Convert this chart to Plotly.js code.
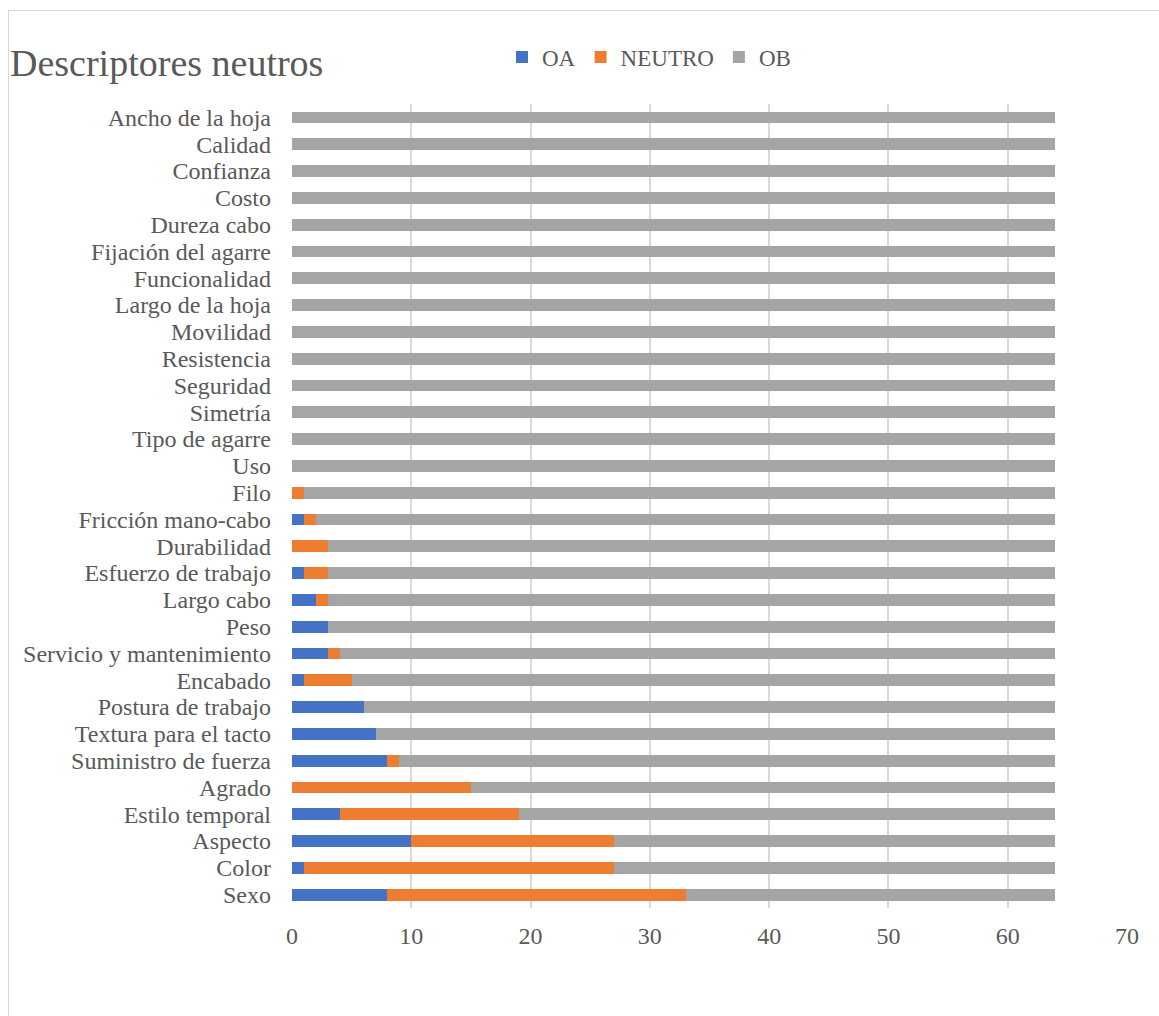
<!DOCTYPE html>
<html><head><meta charset="utf-8">
<script src="https://cdn.plot.ly/plotly-3.0.1.min.js"></script>
<style>
html,body{margin:0;padding:0;background:#fff;}
#chart{width:1159px;height:1016px;}
#frame{position:absolute;left:8px;top:10px;width:1160px;height:1010px;border:1px solid #d9d9d9;pointer-events:none;}
</style></head><body>
<div id="chart"></div><div id="frame"></div>
<script>
const categories = ["Sexo","Color","Aspecto","Estilo temporal","Agrado","Suministro de fuerza","Textura para el tacto","Postura de trabajo","Encabado","Servicio y mantenimiento","Peso","Largo cabo","Esfuerzo de trabajo","Durabilidad","Fricción mano-cabo","Filo","Uso","Tipo de agarre","Simetría","Seguridad","Resistencia","Movilidad","Largo de la hoja","Funcionalidad","Fijación del agarre","Dureza cabo","Costo","Confianza","Calidad","Ancho de la hoja"];
const oa =     [8, 1,10, 4, 0, 8, 7, 6, 1, 3, 3, 2, 1, 0, 1, 0, 0,0,0,0,0,0,0,0,0,0,0,0,0,0];
const neutro = [25,26,17,15,15, 1, 0, 0, 4, 1, 0, 1, 2, 3, 1, 1, 0,0,0,0,0,0,0,0,0,0,0,0,0,0];
const ob =     [31,37,37,45,49,55,57,58,59,60,61,61,61,61,62,63,64,64,64,64,64,64,64,64,64,64,64,64,64,64];
const xTicks = [0,10,20,30,40,50,60,70];

const font = {family:"Liberation Serif, Times New Roman, serif", color:"#595959"};
const mk = (name, x, color) => ({type:"bar", orientation:"h", name, x, y:categories, marker:{color, line:{width:0}}, hoverinfo:"x+y+name"});
const data = [mk("OA", oa, "#4472C4"), mk("NEUTRO", neutro, "#ED7D31"), mk("OB", ob, "#A5A5A5")];

const layout = {
  width:1159, height:1016,
  margin:{l:292, r:32, t:104, b:108},
  paper_bgcolor:"#fff", plot_bgcolor:"#fff",
  barmode:"stack", bargap:0.56,
  font:Object.assign({size:24}, font),
  title:{text:"Descriptores neutros", x:10/1159, xref:"container", xanchor:"left", y:1-63/1016, yref:"container", yanchor:"middle", font:Object.assign({size:38}, font)},
  legend:{orientation:"h", x:502/1159, xref:"container", xanchor:"left", y:1-57/1016, yref:"container", yanchor:"middle", font:Object.assign({size:23}, font), traceorder:"normal", itemwidth:30},
  xaxis:{range:[0,70], tickvals:xTicks, showgrid:true, gridcolor:"#d9d9d9", gridwidth:2, zeroline:false, showline:false, ticks:"", ticklabelstandoff:11, tickfont:Object.assign({size:24}, font), fixedrange:true},
  yaxis:{type:"category", categoryorder:"array", categoryarray:categories, range:[-0.5, categories.length-0.5], tickmode:"array", tickvals:categories, ticktext:categories, showgrid:false, zeroline:false, showline:false, ticks:"", ticklabelstandoff:20, tickfont:Object.assign({size:24}, font), fixedrange:true, automargin:false},
  showlegend:true
};
Plotly.newPlot("chart", data, layout, {displayModeBar:false, staticPlot:true});
</script></body></html>
